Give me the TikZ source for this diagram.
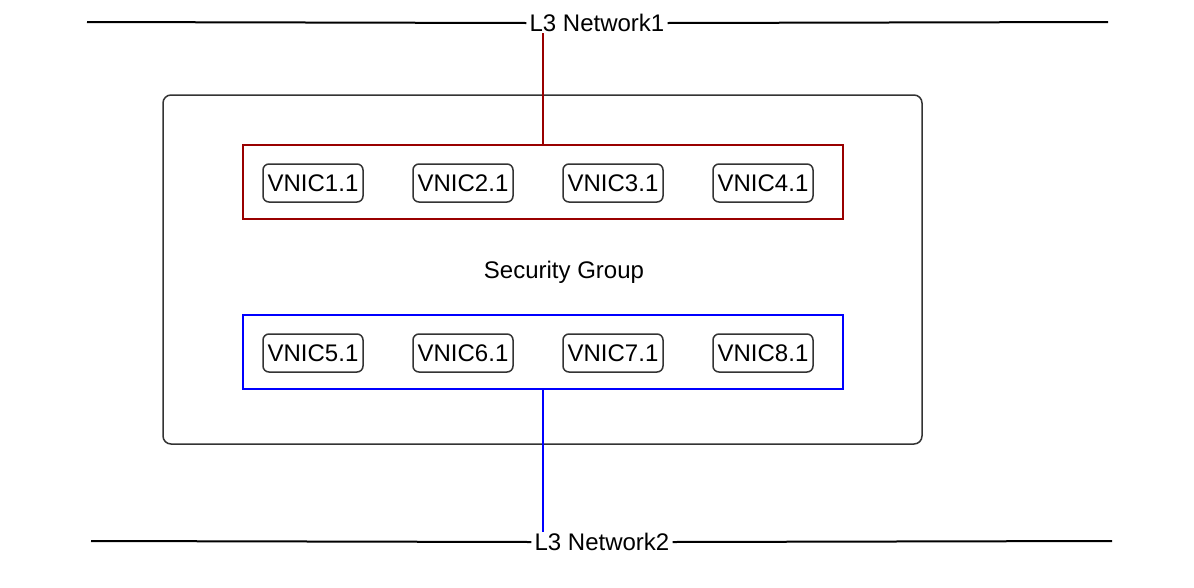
\documentclass[tikz,border=0pt]{standalone}
\usepackage{fontspec}
\setmainfont{Liberation Sans}
\definecolor{grpred}{RGB}{153,0,0}
\definecolor{grpblue}{RGB}{0,0,255}
\definecolor{boxgray}{RGB}{51,51,51}
\tikzset{
    vnic/.style={draw=boxgray, line width=1.5pt, rounded corners=6pt, minimum width=100pt, minimum height=38pt, inner sep=0pt},
    grp/.style={line width=1.5pt, minimum width=600pt, minimum height=74pt, inner sep=0pt},
    netlabel/.style={inner xsep=3pt, inner ysep=1pt}
}
\begin{document}
\begin{tikzpicture}[x=1pt, y=-1pt, font=\fontsize{24}{28}\selectfont]
        \useasboundingbox (0,0) rectangle (1194,587);

        % outer security group
        \node[draw=boxgray, line width=1.5pt, rounded corners=8pt, minimum width=759pt, minimum height=349pt, inner sep=0pt] (secgrp) at (542.5,269.5) {};
        \node (seclabel) at (564,272) {Security Group};

        \node[grp, draw=grpred] (redgrp) at (543,182) {};
        \node[grp, draw=grpblue] (bluegrp) at (543,352) {};

        \foreach \i in {1,...,4} {
            \pgfmathtruncatemacro{\j}{\i+4}
            \node[vnic] (vnic\i) at (313+150*\i-150,183) {VNIC\i.1};
            \node[vnic] (vnic\j) at (313+150*\i-150,353) {VNIC\j.1};
        }

        % networks
        \coordinate (netAl) at (87,22);
        \coordinate (netAr) at (1108,22);
        \node[netlabel] (net1) at (597,23) {L3 Network1};
        \draw[line width=2pt] (netAl) -- (net1.west);
        \draw[line width=2pt] (net1.east) -- (netAr);

        \coordinate (netBl) at (91,541);
        \coordinate (netBr) at (1112,541);
        \node[netlabel] (net2) at (602,542) {L3 Network2};
        \draw[line width=2pt] (netBl) -- (net2.west);
        \draw[line width=2pt] (net2.east) -- (netBr);

        \draw[grpred, line width=1.5pt] (redgrp.north) -- (redgrp.north |- net1.south);
        \draw[grpblue, line width=1.5pt] (bluegrp.south) -- (bluegrp.south |- net2.north);
    \end{tikzpicture}
\end{document}
